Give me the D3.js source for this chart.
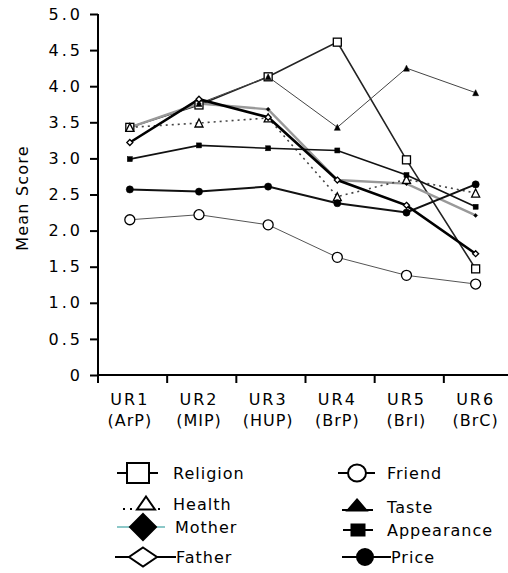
<!DOCTYPE html>
<html>
<head>
<meta charset="utf-8">
<script src="https://cdn.jsdelivr.net/npm/d3@7"></script>
<style>
  body { margin: 0; background: #fff; }
  svg { display: block; font-family: "DejaVu Sans", sans-serif; }
</style>
</head>
<body>
<div id="chart"></div>
<script>
// categories and values
const categories = ["UR1", "UR2", "UR3", "UR4", "UR5", "UR6"];
const subLabels = ["(ArP)", "(MIP)", "(HUP)", "(BrP)", "(BrI)", "(BrC)"];
const yTicks = [0, 0.5, 1.0, 1.5, 2.0, 2.5, 3.0, 3.5, 4.0, 4.5, 5.0];

const religion   = [3.43, 3.74, 4.13, 4.61, 2.98, 1.47];
const health     = [3.43, 3.49, 3.56, 2.47, 2.71, 2.52];
const mother     = [3.43, 3.76, 3.68, 2.70, 2.65, 2.21];
const father     = [3.22, 3.82, 3.57, 2.70, 2.35, 1.68];
const friend     = [2.15, 2.22, 2.08, 1.63, 1.38, 1.26];
const taste      = [3.43, 3.76, 4.13, 3.43, 4.25, 3.91];
const appearance = [2.99, 3.18, 3.14, 3.11, 2.77, 2.33];
const price      = [2.57, 2.54, 2.61, 2.38, 2.25, 2.64];

const W = 508, H = 573;
const mLeft = 98, mRight = 513, mTop = 14, mBottom = 375;

const svg = d3.select("#chart").append("svg")
  .attr("width", W).attr("height", H);

const x = d3.scaleBand().domain(categories).range([mLeft, mRight]);
const px = c => x(c) + x.bandwidth() * 0.46;
const y = d3.scaleLinear().domain([0, 5]).range([mBottom, mTop]);

// series styling
const series = [
  {name: "Religion", values: religion, stroke: "#222", width: 1.6, dash: null, marker: "square", fill: "#fff", size: 8},
  {name: "Taste", values: taste, stroke: "#444", width: 1, dash: null, marker: "triangle", fill: "#000", size: 6},
  {name: "Mother", values: mother, stroke: "#999", width: 2.4, dash: null, marker: "diamond", fill: "#000", size: 4},
  {name: "Health", values: health, stroke: "#444", width: 1.6, dash: "2,4", marker: "triangle", fill: "#fff", size: 8},
  {name: "Friend", values: friend, stroke: "#555", width: 1, dash: null, marker: "circle", fill: "#fff", size: 5},
  {name: "Appearance", values: appearance, stroke: "#111", width: 1.6, dash: null, marker: "square", fill: "#000", size: 5},
  {name: "Price", values: price, stroke: "#111", width: 2, dash: null, marker: "circle", fill: "#000", size: 3.6},
  {name: "Father", values: father, stroke: "#000", width: 2.6, dash: null, marker: "diamond", fill: "#fff", size: 6}
];

function drawMarker(g, type, cx, cy, w, h, fill, sw) {
  if (type === "square") {
    g.append("rect").attr("x", cx - w / 2).attr("y", cy - h / 2)
      .attr("width", w).attr("height", h)
      .attr("fill", fill).attr("stroke", "#000").attr("stroke-width", sw);
  } else if (type === "circle") {
    g.append("ellipse").attr("cx", cx).attr("cy", cy).attr("rx", w).attr("ry", h)
      .attr("fill", fill).attr("stroke", "#000").attr("stroke-width", sw);
  } else if (type === "triangle") {
    g.append("path")
      .attr("d", `M${cx},${cy - h / 2}L${cx + w / 2},${cy + h / 2}L${cx - w / 2},${cy + h / 2}Z`)
      .attr("fill", fill).attr("stroke", "#000").attr("stroke-width", sw);
  } else if (type === "diamond") {
    g.append("path")
      .attr("d", `M${cx},${cy - h / 2}L${cx + w / 2},${cy}L${cx},${cy + h / 2}L${cx - w / 2},${cy}Z`)
      .attr("fill", fill).attr("stroke", "#000").attr("stroke-width", sw);
  }
}

// axes
const yAxis = svg.append("g")
  .attr("transform", `translate(${mLeft},0)`)
  .call(d3.axisLeft(y).tickValues(yTicks).tickSize(8).tickPadding(7)
    .tickFormat(d => d === 0 ? "0" : d3.format(".1f")(d)));
yAxis.select(".domain").attr("stroke-width", 2).attr("d", `M0,${mTop}V${mBottom}`);
yAxis.selectAll(".tick line").attr("stroke-width", 2);
yAxis.selectAll(".tick text")
  .attr("font-size", 16).attr("letter-spacing", 3)
  .attr("font-family", "DejaVu Sans").attr("fill", "#000");

const xAxis = svg.append("g").attr("transform", `translate(0,${mBottom})`);
xAxis.append("line").attr("x1", mLeft).attr("x2", W).attr("stroke", "#000").attr("stroke-width", 2);
xAxis.selectAll(".xt").data(categories).enter().append("line")
  .attr("x1", d => x(d)).attr("x2", d => x(d))
  .attr("y1", 0).attr("y2", 8).attr("stroke", "#000").attr("stroke-width", 2);
xAxis.selectAll(".xl1").data(categories).enter().append("text")
  .attr("x", d => px(d)).attr("y", 30).attr("text-anchor", "middle")
  .attr("font-size", 16).attr("letter-spacing", 2).text(d => d);
xAxis.selectAll(".xl2").data(subLabels).enter().append("text")
  .attr("x", (d, i) => px(categories[i])).attr("y", 51).attr("text-anchor", "middle")
  .attr("font-size", 16).attr("letter-spacing", 1).text(d => d);

svg.append("text")
  .attr("transform", `translate(28,198) rotate(-90)`)
  .attr("text-anchor", "middle").attr("font-size", 16).attr("letter-spacing", 1.2)
  .text("Mean Score");

// lines
const line = d3.line().x((d, i) => px(categories[i])).y(d => y(d));
series.forEach(s => {
  svg.append("path").datum(s.values)
    .attr("d", line)
    .attr("fill", "none")
    .attr("stroke", s.stroke)
    .attr("stroke-width", s.width)
    .attr("stroke-dasharray", s.dash);
});

// markers
series.forEach(s => {
  const g = svg.append("g");
  const sw = s.fill === "#fff" ? 1.3 : 0.5;
  s.values.forEach((v, i) => {
    drawMarker(g, s.marker, px(categories[i]), y(v), s.size, s.size, s.fill, sw);
  });
});

// legend
const legendItems = [
  {name: "Religion", ly: 473, lx1: 117, lx2: 158, mx: 138, tx: 173, line: "#000", dash: null, marker: "square", w: 22, h: 20, fill: "#fff"},
  {name: "Health", ly: 509, lx1: 123, lx2: 162, mx: 146, tx: 173, line: "#000", dash: "2,5", marker: "triangle", w: 18, h: 13, fill: "#fff", ty: 504, my: 503},
  {name: "Mother", ly: 527, lx1: 117, lx2: 165, mx: 143, tx: 175, line: "#8cc8c8", dash: null, marker: "diamond", w: 26, h: 26, fill: "#000"},
  {name: "Father", ly: 557, lx1: 115, lx2: 176, mx: 143, tx: 176, line: "#000", dash: null, marker: "diamond", w: 28, h: 19, fill: "#fff"},
  {name: "Friend", ly: 473, lx1: 338, lx2: 375, mx: 357, tx: 387, line: "#000", dash: null, marker: "circle", w: 9, h: 8.5, fill: "#fff"},
  {name: "Taste", ly: 510, lx1: 342, lx2: 373, mx: 357, tx: 387, line: "#000", dash: null, marker: "triangle", w: 19, h: 11, fill: "#000", ty: 507, my: 505},
  {name: "Appearance", ly: 530, lx1: 343, lx2: 373, mx: 358, tx: 387, line: "#000", dash: null, marker: "square", w: 13, h: 11, fill: "#000"},
  {name: "Price", ly: 557, lx1: 342, lx2: 391, mx: 365, tx: 391, line: "#000", dash: null, marker: "circle", w: 8, h: 8, fill: "#000"}
];
const lg = svg.append("g");
legendItems.forEach(l => {
  lg.append("line").attr("x1", l.lx1).attr("x2", l.lx2).attr("y1", l.ly).attr("y2", l.ly)
    .attr("stroke", l.line).attr("stroke-width", 2).attr("stroke-dasharray", l.dash);
  const my = l.my || l.ly;
  drawMarker(lg, l.marker, l.mx, my, l.w, l.h, l.fill, 2);
  lg.append("text").attr("x", l.tx).attr("y", (l.ty || l.ly) + 6)
    .attr("font-size", 16).attr("letter-spacing", 1).text(l.name);
});
</script>
</body>
</html>
